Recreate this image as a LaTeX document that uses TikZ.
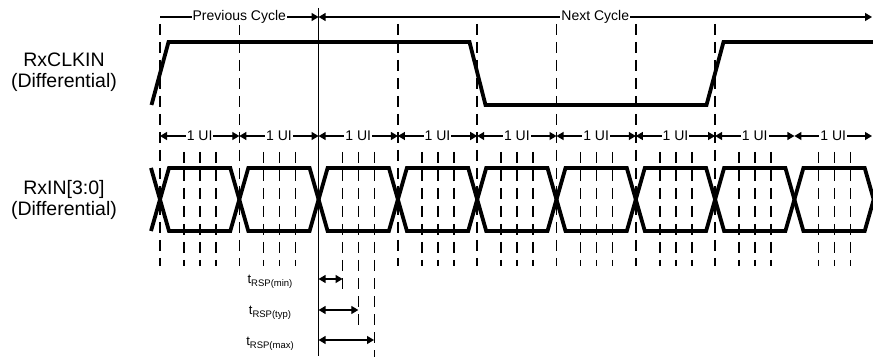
\documentclass[tikz,border=0pt]{standalone}
\usepackage{fontspec}
\setmainfont{Liberation Sans}
\usetikzlibrary{arrows.meta, positioning, calc}
\newcommand{\tsub}[1]{t\raisebox{-3.5pt}{\fontsize{9.5}{10}\selectfont #1}}

\begin{document}
\begin{tikzpicture}[
        x=1pt, y=-1pt,
        font=\fontsize{14}{16}\selectfont,
        >={Triangle[width=8pt,length=7pt]},
        signal/.style={line width=3.8pt, line join=miter},
        guide/.style={line width=1.6pt, dash pattern=on 11pt off 7pt},
        refline/.style={line width=1.7pt},
        dim/.style={<->, line width=1.3pt},
        cycarrow/.style={->, line width=1.3pt},
        dimlabel/.style={fill=white, inner sep=1pt},
        siglabel/.style={align=center, font=\fontsize{19.5}{21}\selectfont},
        rsplabel/.style={font=\fontsize{13}{15}\selectfont}
    ]
    \useasboundingbox (0,0) rectangle (873,358);

    % Coordinates
    \foreach \i in {0,...,9}
        \coordinate (b\i) at (160+79.3*\i,0);
    \coordinate (cycrow) at (0,17);
    \coordinate (uirow) at (0,136);
    \coordinate (rightedge) at (872,0);
    \coordinate (rspmin) at (342.6,279);
    \coordinate (rsptyp) at (358.3,310);
    \coordinate (rspmax) at (374,340);

    % Nodes
    \node[siglabel] (clklabel) at (64,72) {RxCLKIN\\(Differential)};
    \node[siglabel] (datalabel) at (64,200) {RxIN[3:0]\\(Differential)};
    \node[rsplabel] (minlabel) at (270,282) {\tsub{RSP(min)}};
    \node[rsplabel] (typlabel) at (270,313) {\tsub{RSP(typ)}};
    \node[rsplabel] (maxlabel) at (270,344) {\tsub{RSP(max)}};

    % Guide lines
    \foreach \i in {0,1,3,4,5,6,7}
        \draw[guide] (b\i) ++(0,24) -- ++(0,242);
    \foreach \i in {0,1,3,4,5,6,7,8}
        \foreach \d in {24,40,56}
            \draw[guide] ([xshift=\d pt]b\i) ++(0,152) -- ++(0,114);
    \draw[guide] ([xshift=24pt]b2) ++(0,152) -- ++(0,140);
    \draw[guide] ([xshift=40pt]b2) ++(0,152) -- ++(0,175);
    \draw[guide] ([xshift=56pt]b2) ++(0,152) -- ++(0,205);
    \draw[refline] (b2) ++(0,8) -- ++(0,348);

    % Signals
    \draw[signal] (151.5,105) -- (168.5,42) -- (469.5,42) -- (485.5,105)
        -- (706.5,105) -- (723.5,42) -- (873,42);
    \draw[signal] (151,168) \foreach \i [evaluate=\i as \x using 160+79.3*\i,
        evaluate=\i as \y using 199.5+31.5*cos(180*\i)] in {0,...,9}
        { -- (\x+9,\y) -- (\x+70.3,\y) };
    \draw[signal] (151,231) \foreach \i [evaluate=\i as \x using 160+79.3*\i,
        evaluate=\i as \y using 199.5-31.5*cos(180*\i)] in {0,...,9}
        { -- (\x+9,\y) -- (\x+70.3,\y) };

    % Arrows
    \draw[cycarrow] (b0 |- cycrow) -- node[dimlabel] {Previous Cycle} (b2 |- cycrow);
    \draw[dim] (b2 |- cycrow) -- node[dimlabel] {Next Cycle} (rightedge |- cycrow);
    \foreach \i [evaluate=\i as \j using int(\i+1)] in {0,...,7}
        \draw[dim] (b\i |- uirow) -- node[dimlabel] {1 UI} (b\j |- uirow);
    \draw[dim] (b8 |- uirow) -- node[dimlabel] {1 UI} (rightedge |- uirow);
    \draw[dim] (b2 |- rspmin) -- (rspmin);
    \draw[dim] (b2 |- rsptyp) -- (rsptyp);
    \draw[dim] (b2 |- rspmax) -- (rspmax);

\end{tikzpicture}
\end{document}
